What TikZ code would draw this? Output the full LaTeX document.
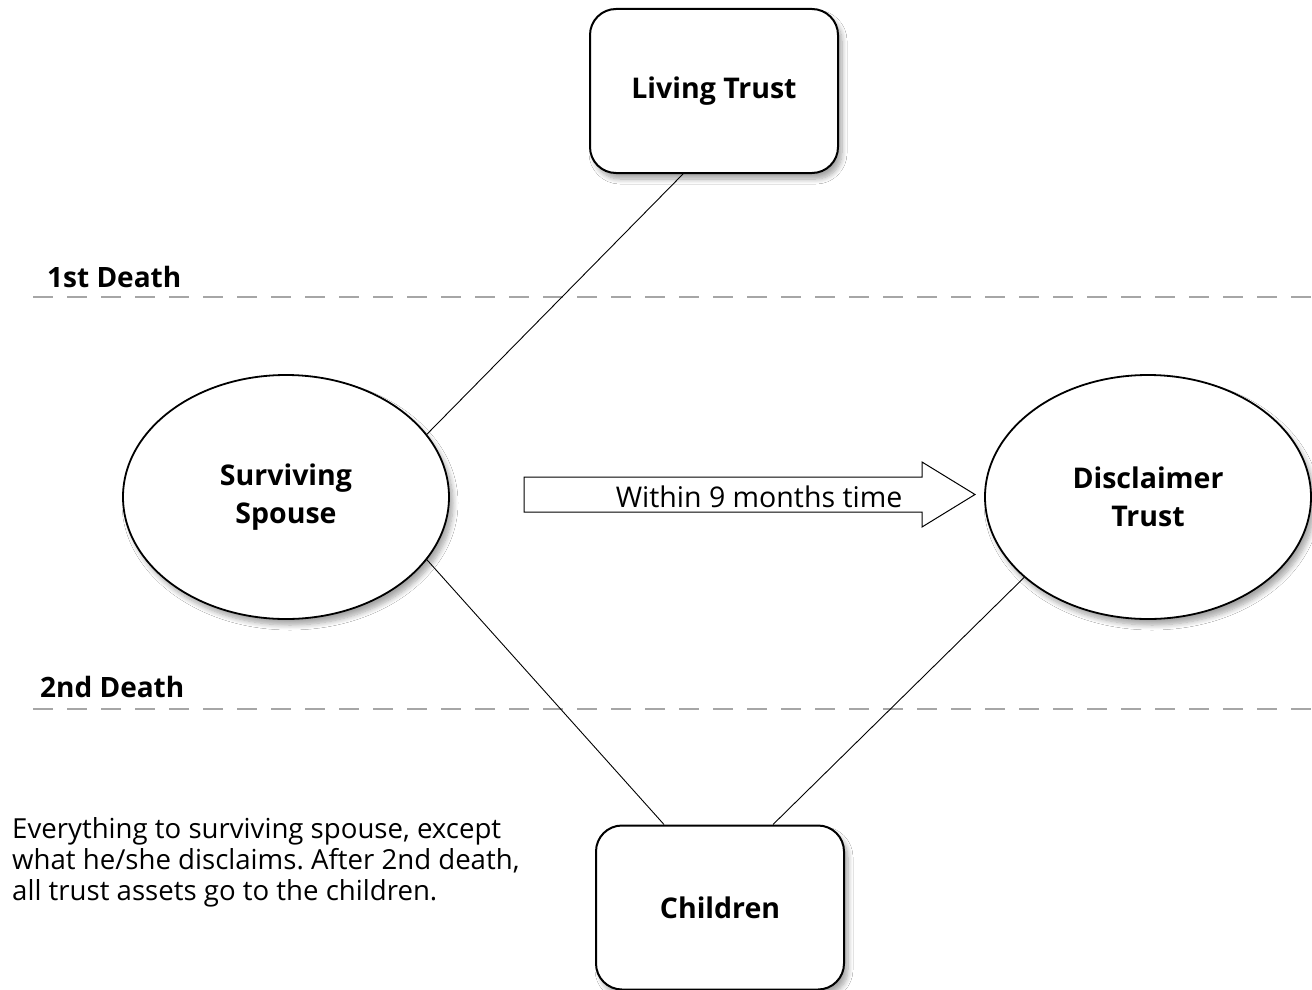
\documentclass[tikz,border=0pt]{standalone}
\usepackage{fontspec}
\setmainfont{Open Sans}
\usetikzlibrary{shapes.geometric,shadows.blur}
\frenchspacing
\begin{document}
\begin{tikzpicture}[x=1pt,y=-1pt,
  shad/.style={blur shadow={shadow blur steps=8,shadow xshift=4pt,shadow yshift=-6pt,shadow opacity=35,shadow blur radius=5pt}},
  boxnode/.style={draw,line width=2pt,rounded corners=26pt,fill=white,shad,
    minimum width=248pt,minimum height=164pt,font=\fontsize{28.5}{32}\selectfont\bfseries,inner sep=0pt},
  ellnode/.style={draw,ellipse,line width=1.8pt,fill=white,shad,
    minimum width=326pt,minimum height=244pt,font=\fontsize{28.5}{38}\selectfont\bfseries,align=center,inner sep=0pt},
  deathline/.style={draw=gray!70,line width=2.2pt,dash pattern=on 20pt off 14pt},
  deathlabel/.style={font=\fontsize{28}{32}\selectfont\bfseries,anchor=base west,inner sep=0pt},
  conn/.style={draw,line width=0.9pt}
]
\useasboundingbox (0,0) rectangle (1312,990);
\fill[white] (0,0) rectangle (1312,990);

% dashed lines
\coordinate (d1a) at (33,297);
\coordinate (d1b) at (1312,297);
\coordinate (d2a) at (33,709);
\coordinate (d2b) at (1312,709);
\draw[deathline] (d1a) -- (d1b);
\draw[deathline] (d2a) -- (d2b);
\node[deathlabel] (l1) at (47,287) {1st Death};
\node[deathlabel] (l2) at (40,697) {2nd Death};

% nodes
\node[boxnode] (lt) at (714,91) {Living Trust};
\node[boxnode] (ch) at (720,907.5) {Children};
\node[ellnode] (ss) at (286,497) {Surviving\\Spouse};
\node[ellnode] (dt) at (1148,497) {Disclaimer\\Trust};

% connectors
\draw[conn] ([xshift=-31pt]lt.south) -- (ss.24);
\draw[conn] (ss.-24.6) -- ([xshift=-56pt]ch.north);
\draw[conn] (dt.-147) -- ([xshift=53pt]ch.north);

% arrow
\draw[line width=1pt,fill=white] (524,477) -- (922,477) -- (922,462) -- (975,494.5)
  -- (922,527) -- (922,512) -- (524,512) -- cycle;
\node[font=\fontsize{28.5}{32}\selectfont,inner sep=0pt] (arr) at (759,497) {Within 9 months time};

% note
\node[anchor=base west,align=left,inner sep=0pt,font=\fontsize{27.6}{31}\selectfont] (note) at (12,900)
  {Everything to surviving spouse, except\\what he/she disclaims. After 2nd death,\\all trust assets go to the children.};
\end{tikzpicture}
\end{document}
